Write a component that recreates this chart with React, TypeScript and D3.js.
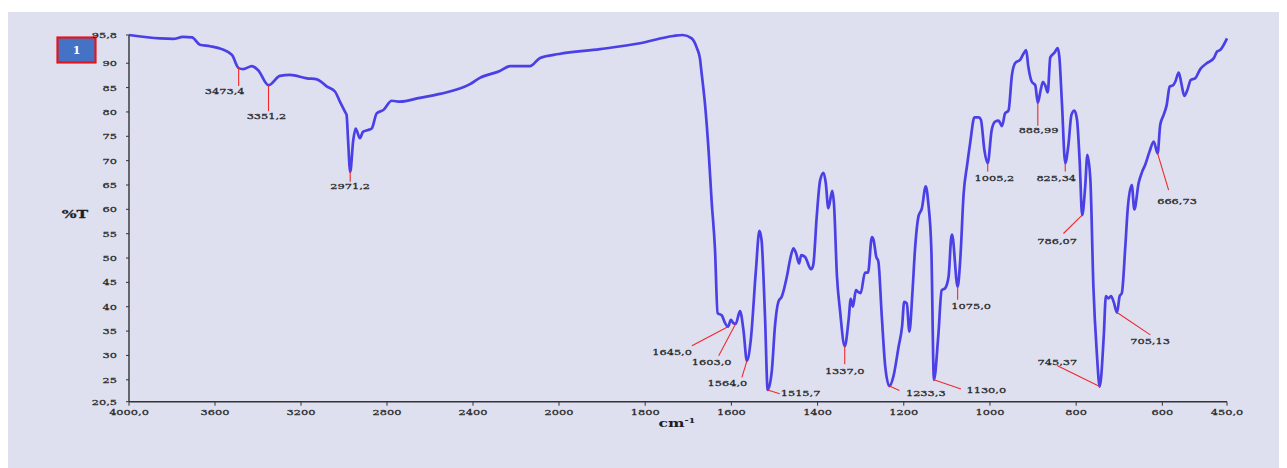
import * as d3 from 'd3';

// wavenumber (cm-1) and transmittance (%T)
const wavenumbers = [
  4000, 3856, 3795, 3749, 3707, 3670, 3623, 3568, 3521, 3490, 3470, 3428, 3400, 3351.2,
  3298, 3251, 3172, 3126, 3079, 3042, 3019, 2995, 2988, 2981, 2971.2, 2957, 2946, 2926,
  2912, 2888, 2871, 2848, 2817, 2778, 2740, 2647, 2554, 2414, 2368, 2275, 2228, 2135,
  2088, 2000, 1905, 1812, 1735, 1713, 1692, 1680, 1673, 1669, 1661, 1653, 1646, 1638,
  1632, 1622, 1616, 1608, 1601, 1595, 1590, 1580, 1572, 1564, 1555, 1543, 1535, 1530,
  1522, 1515.7, 1506, 1499, 1491, 1483, 1471, 1464, 1456, 1450, 1443, 1438, 1429, 1415,
  1410, 1402, 1394, 1386, 1381, 1375, 1366, 1362, 1355, 1348, 1337, 1328, 1323, 1318,
  1311, 1307, 1300, 1290, 1283, 1274, 1270, 1264, 1259, 1251, 1243, 1233.3, 1224, 1212,
  1204, 1199, 1193, 1187, 1180, 1174, 1166, 1158, 1149, 1143, 1136, 1130, 1120, 1112,
  1104, 1096, 1090, 1088, 1075, 1069, 1061, 1053, 1046, 1036, 1026, 1021, 1013, 1005.2,
  996, 988, 980, 972, 965, 957, 949, 941, 930, 922, 916, 911, 903, 895, 888.99, 883, 877,
  872, 866, 860, 850, 843, 839, 833, 825.34, 818, 811, 804, 798, 792, 786.07, 779, 774,
  767, 760, 752, 745.37, 736, 731, 725, 719, 713, 705.13, 699, 694, 686, 680, 671, 665,
  655, 647, 640, 630, 620, 611, 605, 597, 590, 583, 575, 570, 562, 556, 549, 542, 534,
  524, 512, 497, 481, 473, 466, 450,
];
const transmittance = [
  95.8, 95.1, 95.0, 95.4, 95.3, 93.8, 93.5, 92.9, 91.7, 89.0, 88.8, 89.4, 88.6, 85.5,
  87.4, 87.6, 86.9, 86.7, 85.2, 84.2, 82.1, 80.0, 79.4, 74.2, 67.7, 74.2, 76.6, 74.6,
  75.9, 76.3, 76.6, 79.7, 80.4, 82.3, 82.1, 82.9, 83.7, 85.7, 87.0, 88.4, 89.4, 89.4,
  91.1, 91.9, 92.9, 94.1, 95.6, 95.8, 95.1, 93.1, 91.0, 87.9, 81.4, 72.2, 61.9, 51.7,
  38.7, 38.2, 36.9, 35.9, 37.3, 36.6, 36.5, 39.1, 35.2, 28.9, 33.2, 47.6, 55.6, 53.7,
  38.0, 22.9, 27.0, 35.9, 41.0, 42.1, 46.3, 49.6, 52.0, 51.0, 48.9, 50.6, 50.2, 47.7,
  48.6, 58.5, 66.0, 67.5, 65.4, 60.2, 63.8, 61.2, 46.2, 39.3, 31.9, 37.3, 41.6, 40.0,
  43.4, 43.1, 42.8, 47.0, 47.0, 54.3, 53.7, 50.3, 49.3, 38.0, 27.7, 23.7, 25.7, 31.8,
  35.9, 41.0, 40.7, 34.9, 42.8, 51.7, 58.5, 60.2, 64.7, 61.2, 51.7, 25.0, 33.9, 43.4,
  43.8, 46.2, 54.1, 54.8, 44.1, 49.6, 63.3, 69.1, 73.6, 78.9, 78.9, 78.4, 72.2, 69.5,
  76.3, 78.0, 78.2, 77.1, 79.7, 80.3, 87.6, 90.1, 90.7, 92.0, 92.7, 89.3, 86.2, 85.5, 81.9,
  84.2, 86.2, 85.5, 84.0, 91.2, 92.2, 93.1, 91.3, 81.8, 69.5, 73.2, 79.4, 80.3, 78.4, 70.1,
  58.8, 64.7, 71.2, 66.0, 44.1, 30.4, 23.6, 33.9, 42.2, 41.7, 42.2, 41.0, 38.8, 42.2, 42.8,
  52.3, 60.5, 65.0, 60.0, 65.4, 67.7, 69.1, 71.8, 73.9, 71.5, 77.3, 79.4, 81.4, 85.2, 85.5,
  86.2, 88.1, 85.9, 83.3, 84.5, 86.6, 86.9, 88.8, 90.0, 91.0, 92.4, 92.7, 95.1,
];

const xTicks = [4000, 3600, 3200, 2800, 2400, 2000, 1800, 1600, 1400, 1200, 1000, 800, 600, 450];
const xTickLabels = ['4000,0', '3600', '3200', '2800', '2400', '2000', '1800', '1600', '1400', '1200', '1000', '800', '600', '450,0'];
const yTicks = [95.8, 90, 85, 80, 75, 70, 65, 60, 55, 50, 45, 40, 35, 30, 25, 20.5];
const yTickLabels = ['95,8', '90', '85', '80', '75', '70', '65', '60', '55', '50', '45', '40', '35', '30', '25', '20,5'];

// peak labels and where their marker sits on the curve
const peakLabels = ['3473,4', '3351,2', '2971,2', '1645,0', '1603,0', '1564,0', '1515,7', '1337,0', '1233,3',
  '1130,0', '1075,0', '1005,2', '888,99', '825,34', '786,07', '745,37', '705,13', '666,73'];
const peakAt = [3490, 3351.2, 2971.2, 1608, 1590, 1564, 1515.7, 1337, 1233.3,
  1130, 1075, 1005.2, 888.99, 825.34, 786.07, 745.37, 705.13, 611];

// leader end (dx, dy) and text anchor (tx, ty) relative to the marker, in px
const peakLayout: [number, number, number, number, string][] = [
  [0, 18, -14, 26, 'middle'],
  [0, 26, -2, 34, 'middle'],
  [0, 10, 0, 17.5, 'middle'],
  [-36, 19, -36, 28.5, 'end'],
  [-17, 32, -24, 41, 'middle'],
  [-5, 16.5, -19.5, 25, 'middle'],
  [12, 3.7, 13, 5.5, 'start'],
  [0, 18, 0, 27.5, 'middle'],
  [10, 4.4, 16.5, 9.7, 'start'],
  [27, 9.3, 32.5, 13.5, 'start'],
  [0, 13, 13.5, 22.3, 'middle'],
  [0, 8.4, 6.7, 17.7, 'middle'],
  [0, 23, 0.7, 30.8, 'middle'],
  [0, 8.4, -9, 17.7, 'middle'],
  [-18.7, 18.3, -25, 28.5, 'middle'],
  [-42.7, -21, -42.3, -21.7, 'middle'],
  [33.3, 22.3, 33, 31.8, 'middle'],
  [11, 36.7, 19.4, 50.7, 'middle'],
];

const W = 1279;
const H = 460;
const FONT = '"DejaVu Serif", serif';
const SX = 1.42;

function Stretched({ x, y, anchor = 'middle', size = 8, weight = 'normal', fill = '#262626', children }: any) {
  return (
    <text
      transform={`translate(${x},${y}) scale(${SX},1)`}
      textAnchor={anchor}
      fontFamily={FONT}
      fontSize={size}
      fontWeight={weight}
      fill={fill}
      stroke={fill}
      strokeWidth={0.25}
    >
      {children}
    </text>
  );
}

export default function App() {
  const x = d3.scaleLinear().domain([4000, 2000, 450]).range([121, 551, 1219]);
  const y = d3.scaleLinear().domain([95.8, 20.5]).range([27, 393.7]);

  const pts = wavenumbers.map((w, i) => [w, transmittance[i]] as [number, number]);
  const line = d3.line<[number, number]>()
    .x((d) => x(d[0]))
    .y((d) => y(d[1]))
    .curve(d3.curveMonotoneX);

  // interpolate %T on the curve at a given wavenumber
  const tAt = (w: number) => {
    for (let i = 0; i < pts.length - 1; i++) {
      const [w0, t0] = pts[i];
      const [w1, t1] = pts[i + 1];
      if (w <= w0 && w >= w1) return t0 + ((w0 - w) / (w0 - w1)) * (t1 - t0);
    }
    return pts[pts.length - 1][1];
  };

  const x0 = x(4000);
  const x1 = x(450);
  const yTop = y(95.8);
  const yBot = y(20.5);

  return (
    <svg width={W} height={H} style={{ display: 'block' }}>
      <rect x={0} y={4} width={W} height={H - 4} fill="#dee0f0" />

      {/* legend box */}
      <rect x={49.5} y={29.5} width={38} height={25} fill="#4472c4" stroke="#e8141c" strokeWidth={2.2} />
      <text x={68.5} y={46} textAnchor="middle" fontFamily={FONT} fontWeight="bold" fontSize={11} fill="#fff">1</text>

      {/* axes */}
      <line x1={x0} x2={x0} y1={yTop} y2={yBot} stroke="#333" strokeWidth={1.4} />
      <line x1={x0} x2={x1} y1={yBot} y2={yBot} stroke="#333" strokeWidth={1.4} />
      {yTicks.map((t, i) => (
        <g key={`y${t}`}>
          <line x1={x0 - 3} x2={x0} y1={y(t)} y2={y(t)} stroke="#333" strokeWidth={1} />
          <Stretched x={x0 - 12} y={y(t) + 3} anchor="end">{yTickLabels[i]}</Stretched>
        </g>
      ))}
      {xTicks.map((t, i) => (
        <g key={`x${t}`}>
          <line x1={x(t)} x2={x(t)} y1={yBot} y2={yBot + 4} stroke="#333" strokeWidth={1} />
          <Stretched x={x(t)} y={yBot + 13.5}>{xTickLabels[i]}</Stretched>
        </g>
      ))}

      <Stretched x={67} y={210} size={11} weight="bold" fill="#1e1e1e">%T</Stretched>
      <text transform={`translate(${x(1600) - 73},${yBot + 25}) scale(${SX},1)`} fontFamily={FONT} fontSize={11} fontWeight="bold" fill="#1e1e1e">
        cm<tspan dy={-4} fontSize={7}>-1</tspan>
      </text>

      {/* spectrum */}
      <path d={line(pts) ?? ''} fill="none" stroke="#4b3fe6" strokeWidth={2.7} strokeLinejoin="round" />

      {/* peak annotations */}
      {peakLabels.map((lab, i) => {
        const mx = x(peakAt[i]);
        const my = y(tAt(peakAt[i]));
        const [dx, dy, tx, ty, anchor] = peakLayout[i];
        return (
          <g key={lab}>
            <line x1={mx} y1={my} x2={mx + dx} y2={my + dy} stroke="#f0282c" strokeWidth={1.1} />
            <Stretched x={mx + tx} y={my + ty} anchor={anchor}>{lab}</Stretched>
          </g>
        );
      })}
    </svg>
  );
}
